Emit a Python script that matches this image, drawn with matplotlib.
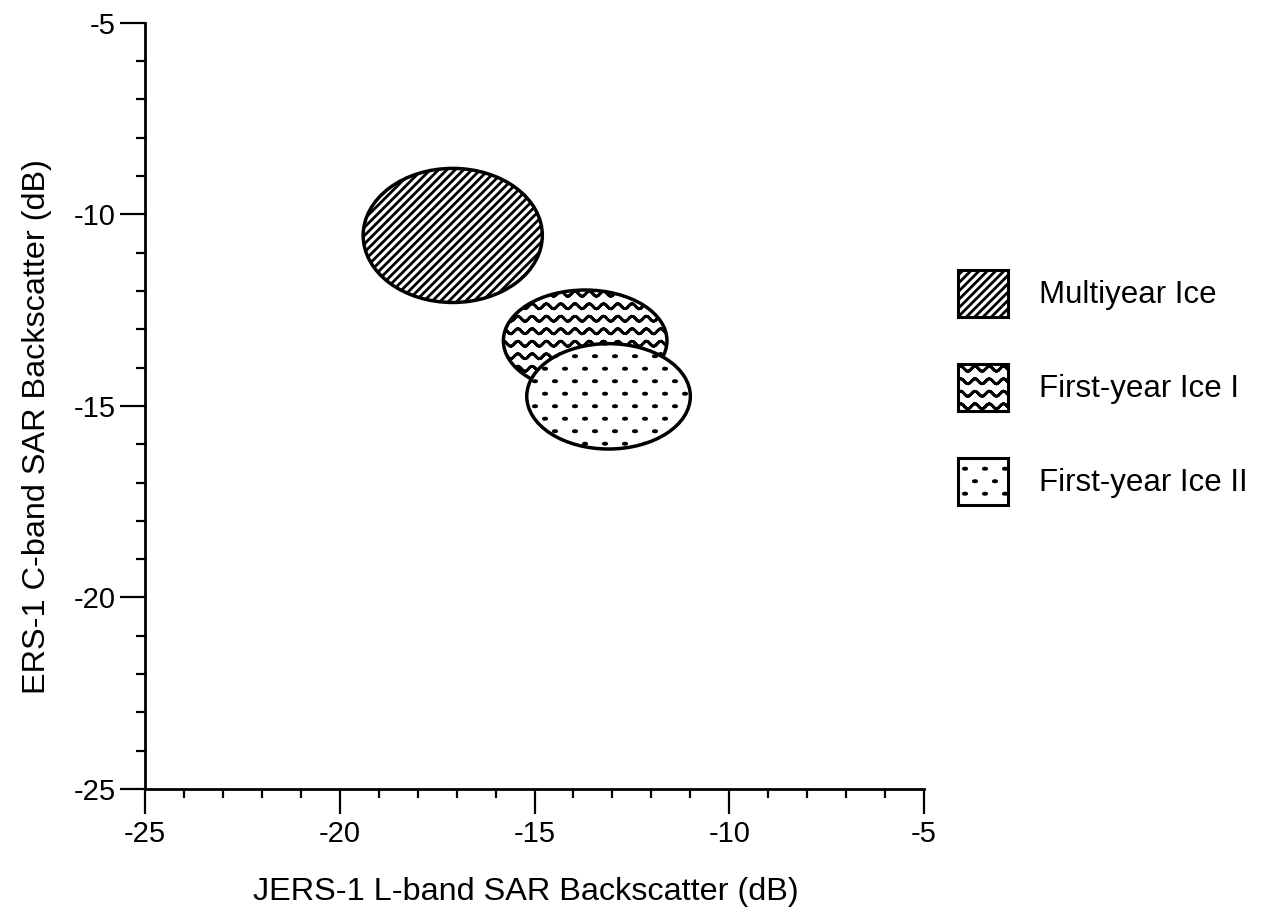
import warnings
import numpy as np
import matplotlib
matplotlib.use('Agg')
import matplotlib.pyplot as plt
import matplotlib.hatch as mhatch
from matplotlib.patches import Ellipse, Patch
from matplotlib.path import Path
from matplotlib.ticker import MultipleLocator

warnings.filterwarnings('ignore')

# ice classes and their ellipses (dB)
ice_types = ['Multiyear Ice', 'First-year Ice I', 'First-year Ice II']
center_l = [-17.1, -13.7, -13.1]     # JERS-1 L-band
center_c = [-10.55, -13.3, -14.75]   # ERS-1 C-band
width_l = [4.6, 4.2, 4.2]
height_c = [3.5, 2.65, 2.75]
hatches = ['////', 'w', 'v']

ticks = [-25, -20, -15, -10, -5]


# extra hatch patterns: wavy lines ('w') and small caret dots ('v')
# wave lines go forth and back so the agg fill of the hatch path has no area
class WaveHatch(mhatch.HatchPatternBase):
    def __init__(self, hatch, density):
        self.rows = 8 if 'w' in hatch else 0
        self.periods = 7
        self.steps = self.periods * 8
        self.num_vertices = self.rows * (2 * self.steps + 1)

    def set_vertices_and_codes(self, vertices, codes):
        x = np.linspace(-0.02, 1.02, self.steps + 1)
        wave = 0.026 * np.sin(2 * np.pi * self.periods * x)
        n = 2 * self.steps + 1
        for r in range(self.rows):
            y0 = (r + 0.5) / self.rows
            xs = np.concatenate([x, x[-2::-1]])
            ys = np.concatenate([wave, wave[-2::-1]]) + y0
            vertices[r * n:(r + 1) * n, 0] = xs
            vertices[r * n:(r + 1) * n, 1] = ys
            codes[r * n] = Path.MOVETO
            codes[r * n + 1:(r + 1) * n] = Path.LINETO


class CaretHatch(mhatch.HatchPatternBase):
    def __init__(self, hatch, density):
        self.rows = 8 if 'v' in hatch else 0
        self.cols = 5
        circ = Path.unit_circle()
        # small flat blob, arched upwards like a caret
        v = circ.vertices * [0.016, 0.006]
        v[:, 1] += 0.025 * (0.016 ** 2 - v[:, 0] ** 2) / 0.016
        self.shape = v
        self.shape_codes = circ.codes
        self.num_vertices = len(v) * self.rows * self.cols

    def set_vertices_and_codes(self, vertices, codes):
        m = len(self.shape)
        k = 0
        for r in range(self.rows):
            y = (r + 0.5) / self.rows
            for c in range(self.cols):
                x = (c + 0.25 + 0.5 * (r % 2)) / self.cols
                vertices[k:k + m] = self.shape + [x, y]
                codes[k:k + m] = self.shape_codes
                k += m


mhatch._hatch_types.extend([WaveHatch, CaretHatch])

plt.rcParams['font.family'] = ['Liberation Sans', 'DejaVu Sans']
plt.rcParams['axes.unicode_minus'] = False
plt.rcParams['hatch.linewidth'] = 2.0
plt.rcParams['hatch.color'] = 'black'

fig = plt.figure(figsize=(12.7, 9.24), dpi=100)
ax = fig.add_axes([0.1142, 0.1461, 0.6134, 0.8292])

for i in range(len(ice_types)):
    e = Ellipse((center_l[i], center_c[i]), width_l[i], height_c[i],
                facecolor='white', edgecolor='black', linewidth=2.5,
                hatch=hatches[i], zorder=2 + i)
    ax.add_patch(e)

ax.set_xlim(-25, -5)
ax.set_ylim(-25, -5)
ax.set_xticks(ticks)
ax.set_yticks(ticks)
ax.xaxis.set_minor_locator(MultipleLocator(1))
ax.yaxis.set_minor_locator(MultipleLocator(1))

for s in ['top', 'right']:
    ax.spines[s].set_visible(False)
for s in ['left', 'bottom']:
    ax.spines[s].set_linewidth(2.0)

ax.tick_params(which='major', direction='out', length=18, width=1.6,
               labelsize=21)
ax.tick_params(which='minor', direction='out', length=6.5, width=1.6)
ax.tick_params(axis='x', which='major', pad=4)
ax.tick_params(axis='y', which='major', pad=3)

ax.set_xlabel('JERS-1 L-band SAR Backscatter (dB)', fontsize=23.3)
ax.set_ylabel('ERS-1 C-band SAR Backscatter (dB)', fontsize=23.3)
ax.xaxis.set_label_coords(0.489, -0.115)
ax.yaxis.set_label_coords(-0.12, 0.473)

handles = [Patch(facecolor='white', edgecolor='black', linewidth=2.2,
                 hatch=h) for h in hatches]
fig.legend(handles, ice_types, loc='upper left',
           bbox_to_anchor=(0.7543, 0.7078), bbox_transform=fig.transFigure,
           frameon=False, fontsize=22.5, borderpad=0, borderaxespad=0,
           handlelength=1.6, handleheight=1.94, labelspacing=1.5,
           handletextpad=1.0)

plt.savefig('out.png', dpi=100)
